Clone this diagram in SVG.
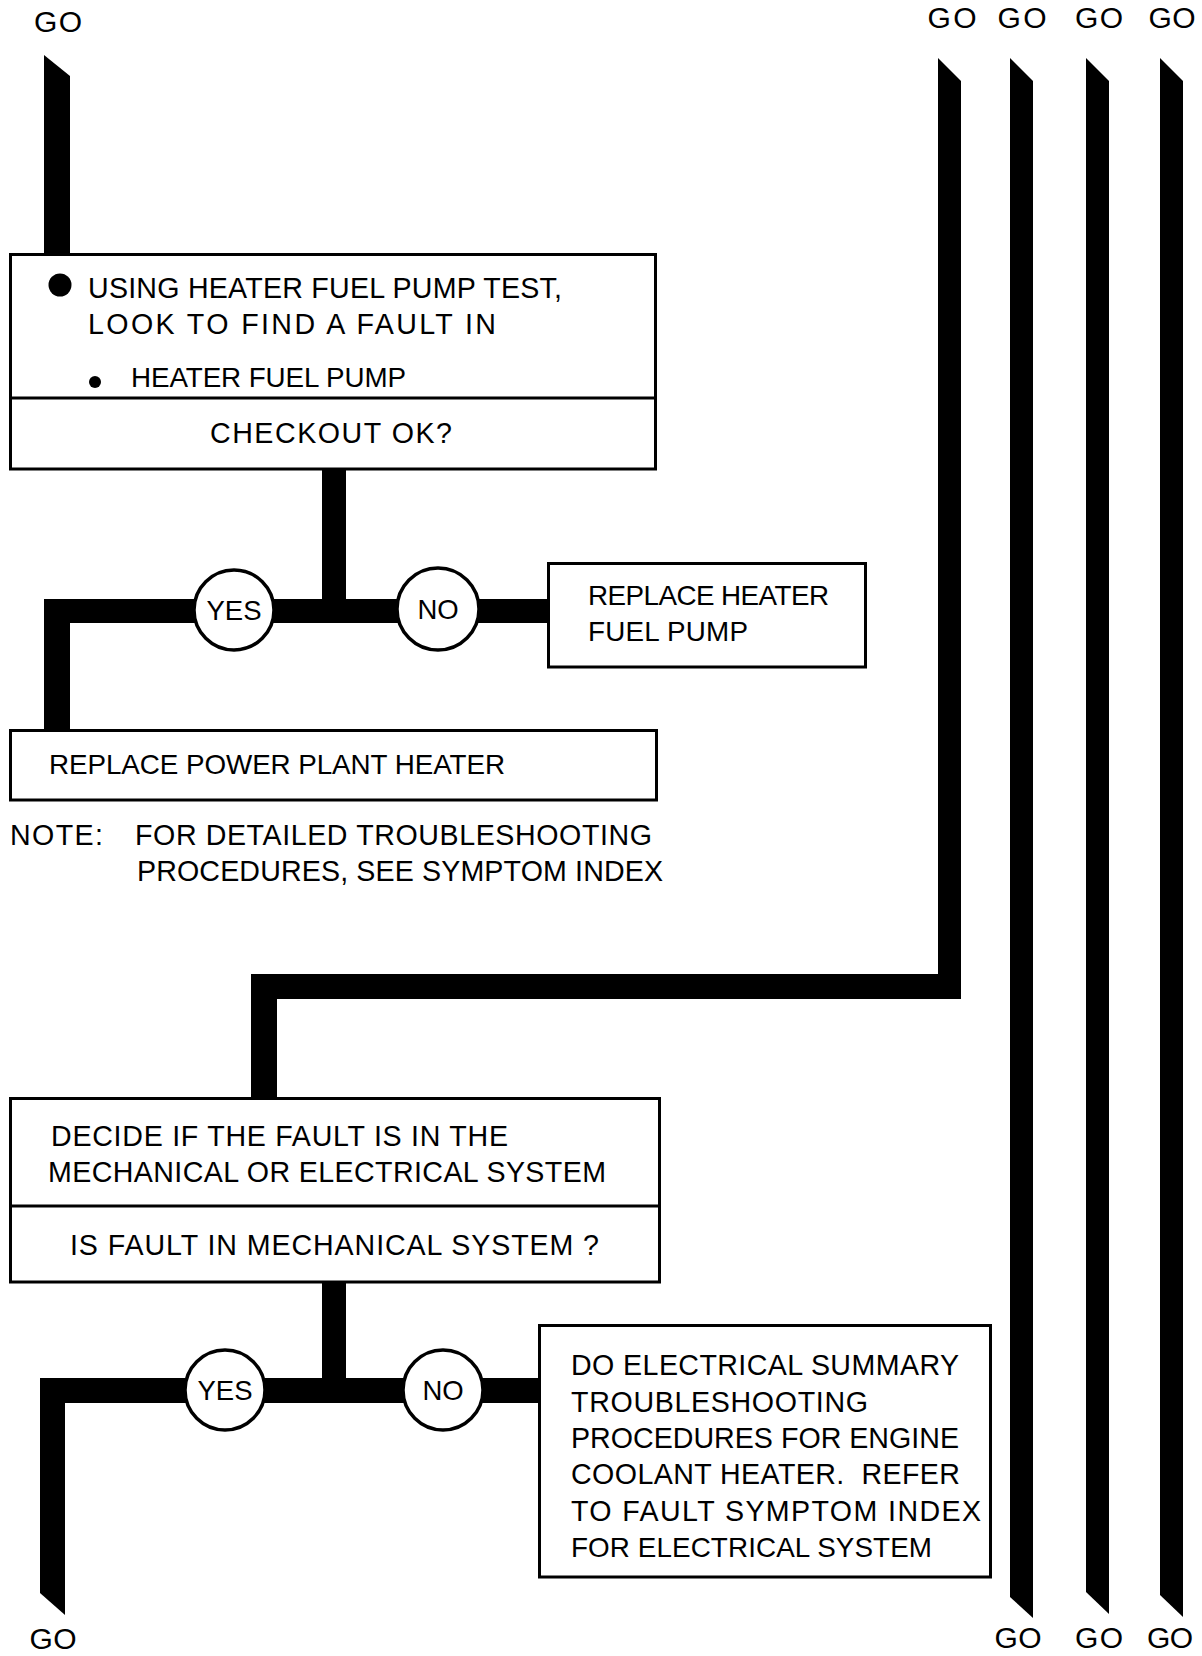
<svg xmlns="http://www.w3.org/2000/svg" width="1202" height="1656" viewBox="0 0 1202 1656">
<style>
  text { font-family: "Liberation Sans", Arial, sans-serif; font-size: 28.6px; fill: #000; white-space: pre; }
  .go { font-size: 30px; text-anchor: middle; }
  .yn { font-size: 27.5px; text-anchor: middle; }
  .tight { font-size: 27.8px; }
  .box { fill: #fff; stroke: #000; stroke-width: 3; }
  .div { stroke: #000; stroke-width: 3; }
  .ring { fill: #fff; stroke: #000; stroke-width: 3.5; }
  .bar { fill: #000; }
</style>
<rect width="1202" height="1656" fill="#fff"/>

<g id="labels">
  <text class="go" x="58" y="32" textLength="48">GO</text>
  <text class="go" x="952" y="28" textLength="49">GO</text>
  <text class="go" x="1022" y="28" textLength="49">GO</text>
  <text class="go" x="1099" y="28" textLength="48">GO</text>
  <text class="go" x="1172" y="28" textLength="47">GO</text>
  <text class="go" x="53" y="1649" textLength="47">GO</text>
  <text class="go" x="1018" y="1648" textLength="47">GO</text>
  <text class="go" x="1099" y="1648" textLength="48">GO</text>
  <text class="go" x="1170" y="1648" textLength="46">GO</text>
</g>

<g id="connectors">
  <polygon class="bar" points="44,55 70,76 70,256 44,256"/>
  <rect class="bar" x="322" y="468" width="24" height="155"/>
  <rect class="bar" x="44" y="599" width="506" height="24"/>
  <rect class="bar" x="44" y="599" width="26" height="132"/>
  <polygon class="bar" points="938,58 961,81 961,999 277,999 277,1099 251,1099 251,974 938,974"/>
  <polygon class="bar" points="1010,58 1033,81 1033,1618 1010,1597"/>
  <polygon class="bar" points="1086,58 1109,81 1109,1614 1086,1592"/>
  <polygon class="bar" points="1160,58 1183,81 1183,1617 1160,1595"/>
  <rect class="bar" x="322" y="1281" width="24" height="122"/>
  <rect class="bar" x="40" y="1378" width="502" height="25"/>
  <polygon class="bar" points="40,1378 65,1378 65,1615 40,1593"/>
</g>

<g id="box-fuel-pump-test">
  <rect class="box" x="10.5" y="254.5" width="645" height="214.5"/>
  <line class="div" x1="10.5" y1="398" x2="655.5" y2="398"/>
  <circle cx="60" cy="285" r="11.5"/>
  <text x="88" y="298" textLength="474">USING HEATER FUEL PUMP TEST,</text>
  <text x="88" y="334" textLength="408">LOOK TO FIND A FAULT IN</text>
  <circle cx="95" cy="382" r="6"/>
  <text class="tight" x="131" y="387" textLength="275">HEATER FUEL PUMP</text>
  <text x="210" y="443" textLength="242">CHECKOUT OK?</text>
</g>

<g id="yes-1">
  <circle class="ring" cx="234" cy="610" r="40"/>
  <text class="yn" x="234" y="620">YES</text>
</g>
<g id="no-1">
  <circle class="ring" cx="438" cy="609" r="41"/>
  <text class="yn" x="438" y="619">NO</text>
</g>

<g id="box-replace-pump">
  <rect class="box" x="548.5" y="563.5" width="317" height="103.5"/>
  <text class="tight" x="588" y="605" textLength="241">REPLACE HEATER</text>
  <text class="tight" x="588" y="641" textLength="160">FUEL PUMP</text>
</g>

<g id="box-replace-heater">
  <rect class="box" x="10.5" y="730.5" width="646" height="69.5"/>
  <text class="tight" x="49" y="774" textLength="456">REPLACE POWER PLANT HEATER</text>
</g>

<g id="note">
  <text x="10" y="845" textLength="93">NOTE:</text>
  <text x="135" y="845" textLength="517">FOR DETAILED TROUBLESHOOTING</text>
  <text x="137" y="881" textLength="526">PROCEDURES, SEE SYMPTOM INDEX</text>
</g>

<g id="box-decide">
  <rect class="box" x="10.5" y="1098.5" width="649" height="183.5"/>
  <line class="div" x1="10.5" y1="1206" x2="659.5" y2="1206"/>
  <text x="51" y="1146" textLength="457">DECIDE IF THE FAULT IS IN THE</text>
  <text x="48" y="1182" textLength="558">MECHANICAL OR ELECTRICAL SYSTEM</text>
  <text x="70" y="1255" textLength="529">IS FAULT IN MECHANICAL SYSTEM ?</text>
</g>

<g id="yes-2">
  <circle class="ring" cx="225" cy="1390" r="40"/>
  <text class="yn" x="225" y="1400">YES</text>
</g>
<g id="no-2">
  <circle class="ring" cx="443" cy="1390" r="40"/>
  <text class="yn" x="443" y="1400">NO</text>
</g>

<g id="box-electrical">
  <rect class="box" x="539.5" y="1325.5" width="451" height="251.5"/>
  <text x="571" y="1375" textLength="388">DO ELECTRICAL SUMMARY</text>
  <text x="571" y="1412" textLength="297">TROUBLESHOOTING</text>
  <text x="571" y="1448" textLength="388">PROCEDURES FOR ENGINE</text>
  <text x="571" y="1484" textLength="389">COOLANT HEATER.  REFER</text>
  <text x="571" y="1521" textLength="410">TO FAULT SYMPTOM INDEX</text>
  <text class="tight" x="571" y="1557" textLength="361">FOR ELECTRICAL SYSTEM</text>
</g>
</svg>
